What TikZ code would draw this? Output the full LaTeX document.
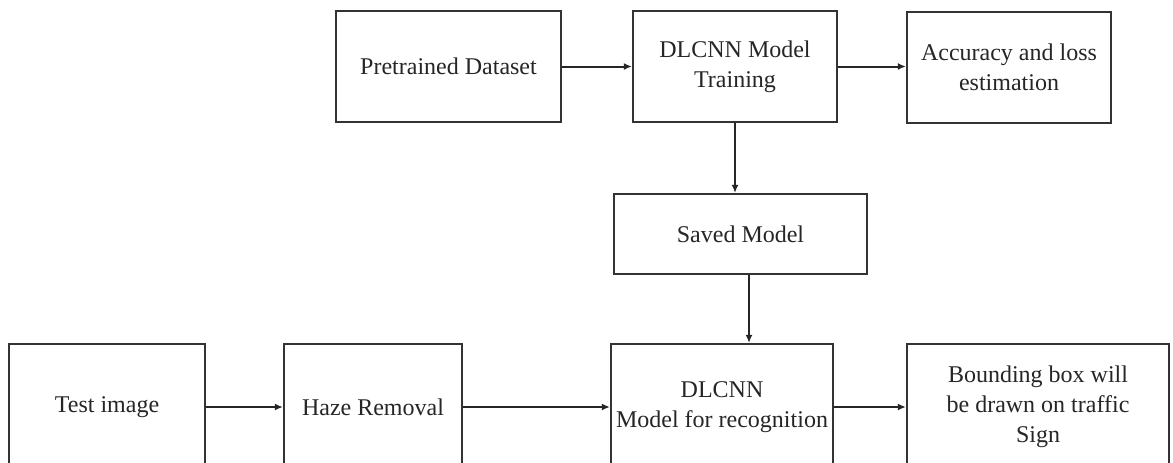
\documentclass[tikz,border=0pt]{standalone}
\usepackage{fontspec}
\setmainfont{Liberation Serif}
\usetikzlibrary{arrows.meta}
\begin{document}
\begin{tikzpicture}[x=1pt,y=-1pt,
  box/.style={draw=black!80,line width=2.2pt,rectangle,inner sep=0pt,align=center,
    font=\fontsize{24}{30}\selectfont,text=black!85},
  conn/.style={line width=2pt,draw=black!85,-{Latex[length=8pt,width=7pt]}}]
\useasboundingbox (0,0) rectangle (1173,463);
\clip (0,0) rectangle (1173,463);
\fill[white] (0,0) rectangle (1173,463);
\node[box,minimum width=225,minimum height=111] (pre) at (448.5,66.5) {Pretrained Dataset};
\node[box,minimum width=204,minimum height=111] (train) at (735,66.5) {DLCNN Model\\Training};
\node[box,minimum width=204,minimum height=111] (acc) at (1009,67.5) {Accuracy and loss\\estimation};
\node[box,minimum width=253,minimum height=80] (saved) at (740.5,234) {Saved Model};
\node[box,minimum width=196,minimum height=126] (test) at (107,407) {Test image};
\node[box,minimum width=178,minimum height=126] (haze) at (373,407) {Haze Removal};
\node[box,minimum width=222,minimum height=126] (recog) at (722,407) {DLCNN\\Model for recognition};
\node[box,minimum width=262,minimum height=126] (bound) at (1038,407) {Bounding box will\\be drawn on traffic\\Sign};
\draw[conn] (pre.east) -- (train.west);
\draw[conn] (train.east) -- (train.east -| acc.west);
\draw[conn] (train.south) -- (train.south |- saved.north);
\draw[conn] ([xshift=8.5pt]saved.south) -- ([xshift=8.5pt]saved.south |- recog.north);
\draw[conn] (test.east) -- (haze.west);
\draw[conn] (haze.east) -- (recog.west);
\draw[conn] (recog.east) -- (bound.west);
\end{tikzpicture}
\end{document}
